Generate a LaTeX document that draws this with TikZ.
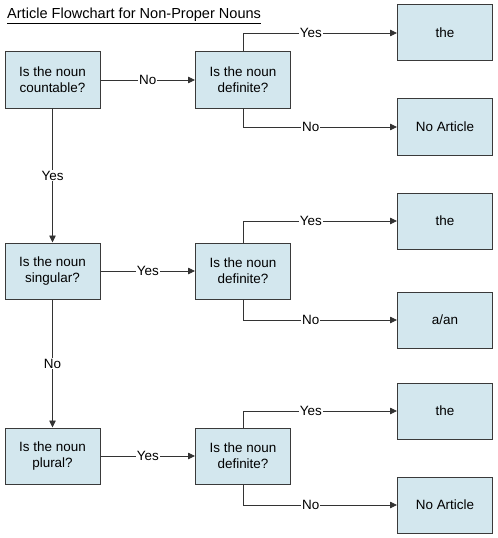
\documentclass[tikz,border=0pt]{standalone}
\usepackage{fontspec}
\setmainfont{Liberation Sans}
\usetikzlibrary{arrows.meta}
\definecolor{boxfill}{HTML}{D3E7EE}
\definecolor{boxline}{HTML}{3A3A3A}
\tikzset{
  qbox/.style={draw=boxline, line width=1pt, fill=boxfill, minimum width=95bp, minimum height=56bp, inner sep=0pt, align=center, font=\fontsize{13.5}{16}\selectfont},
  conn/.style={draw=black!80, line width=0.8pt},
  arr/.style={conn, -{Triangle[length=7bp,width=6.5bp]}},
  lbl/.style={fill=white, inner sep=1pt, font=\fontsize{13.5}{16}\selectfont}
}
\begin{document}
\begin{tikzpicture}[x=1bp,y=-1bp]
\useasboundingbox (0,0) rectangle (498,538);
\node[anchor=base west, inner sep=0pt, font=\fontsize{14.6}{17}\selectfont] (title) at (7,19) {\underline{Article Flowchart for Non-Proper Nouns}};
% left column
\node[qbox] (q1) at (52.5,80) {Is the noun\\countable?};
\node[qbox] (q2) at (52.5,271) {Is the noun\\singular?};
\node[qbox] (q3) at (52.5,456) {Is the noun\\plural?};
% middle column
\node[qbox] (d1) at (243,80) {Is the noun\\definite?};
\node[qbox] (d2) at (243,271) {Is the noun\\definite?};
\node[qbox] (d3) at (243,456) {Is the noun\\definite?};
% right column
\node[qbox] (r1) at (445,33) {the};
\node[qbox] (r2) at (445,127) {No Article};
\node[qbox] (r3) at (445,221) {the};
\node[qbox] (r4) at (445,320) {a/an};
\node[qbox] (r5) at (445,411) {the};
\node[qbox] (r6) at (445,505) {No Article};
% horizontal
\draw[arr] (q1) -- node[lbl]{No} (d1);
\draw[arr] (q2) -- node[lbl]{Yes} (d2);
\draw[arr] (q3) -- node[lbl]{Yes} (d3);
% vertical
\draw[arr] (q1) -- node[lbl]{Yes} (q2);
\draw[arr] (q2) -- node[lbl]{No} (q3);
% definite branches
\draw[arr] (d1.north) |- node[lbl, pos=0.72]{Yes} (r1.west);
\draw[arr] (d1.south) |- node[lbl, pos=0.72]{No} (r2.west);
\draw[arr] (d2.north) |- node[lbl, pos=0.72]{Yes} (r3.west);
\draw[arr] (d2.south) |- node[lbl, pos=0.72]{No} (r4.west);
\draw[arr] (d3.north) |- node[lbl, pos=0.72]{Yes} (r5.west);
\draw[arr] (d3.south) |- node[lbl, pos=0.72]{No} (r6.west);
\end{tikzpicture}
\end{document}
